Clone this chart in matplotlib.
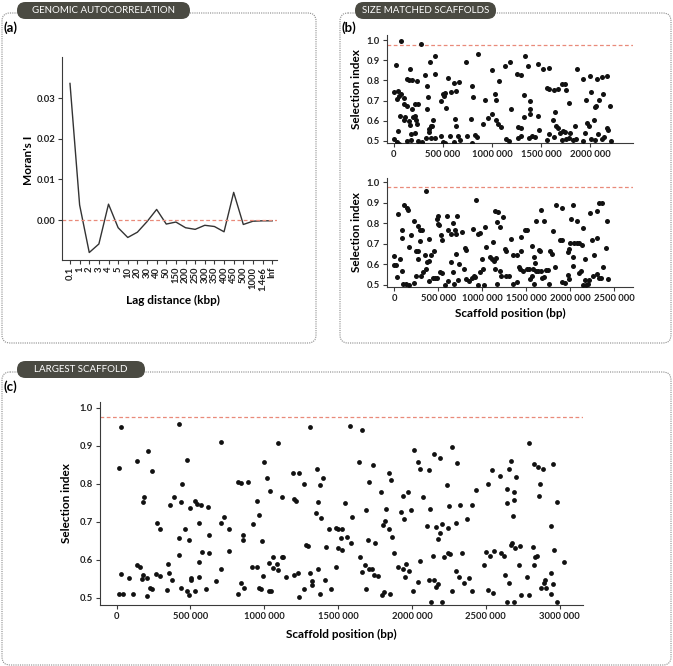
"""Drie panelen: genomische autocorrelatie, size-matched scaffolds en de grootste scaffold."""
import matplotlib
matplotlib.use("Agg")
import matplotlib.pyplot as plt
from matplotlib.patches import FancyBboxPatch
from matplotlib.ticker import FixedLocator, FormatStrFormatter
import numpy as np

plt.rcParams["font.family"] = ["Lato", "DejaVu Sans"]

# ---- data -----------------------------------------------------------------
lag_labels = ["0.1", "1", "2", "3", "4", "5", "10", "20", "30", "40", "50", "150",
              "200", "250", "300", "350", "400", "450", "500", "1000", "1.4e6", "Inf"]
morans_i = [0.0336, 0.0037, -0.0080, -0.0059, 0.0039, -0.0019, -0.0043, -0.0030,
            -0.0004, 0.0026, -0.0010, -0.0005, -0.0019, -0.0023, -0.0013, -0.0016,
            -0.0029, 0.0068, -0.0011, -0.0003, -0.0002, -0.0002]

threshold = 0.975

# size matched scaffold 1 (positie in kbp, selectie-index)
b1_pos = [76, 276, 24, 166, 414, 362, 317, 421, 128, 152, 179, 231, 0, 45, 34, 52, 76, 100,
          103, 131, 214, 241, 179, 190, 62, 117, 100, 155, 214, 224, 231, 41, 162, 0, 34, 55,
          128, 172, 214, 172, 248, 290, 352, 359, 376, 386, 397, 324, 379, 421, 334, 345, 341,
          548, 476, 497, 517, 531, 514, 583, 614, 634, 662, 617, 628, 476, 500, 517, 566, 607,
          648, 669, 731, 745, 786, 790, 793, 800, 828, 841, 855, 910, 931, 959, 993, 1000,
          1024, 1034, 1041, 1059, 1069, 1090, 1128, 1179, 1196, 1138, 1166, 1255, 1290, 1334,
          1365, 1324, 1265, 1265, 1290, 1324, 1386, 1386, 1297, 1379, 1400,
          1466, 1514, 1582, 1384, 1466, 1473, 1432, 1561, 1575, 1626, 1670, 1711, 1738, 1752,
          1782, 1640, 1616, 1650, 1670, 1582, 1558, 1633, 1694, 1718, 1738, 1711, 1752, 1779,
          1796, 1840, 1823, 1854, 1867, 1929, 1997, 2068, 2119, 2173, 1959, 2010, 2044, 2058,
          2092, 2129, 2201, 2037, 1966, 1990, 1942, 1925, 2003, 2051, 2078, 2119, 2136, 2166,
          2180, 2204]
b1_sel = [0.995, 0.980, 0.878, 0.855, 0.921, 0.889, 0.828, 0.831, 0.805, 0.802, 0.800, 0.798,
          0.742, 0.746, 0.709, 0.721, 0.734, 0.713, 0.681, 0.671, 0.681, 0.681, 0.658, 0.619,
          0.624, 0.620, 0.602, 0.599, 0.622, 0.605, 0.585, 0.551, 0.577, 0.510, 0.493, 0.487,
          0.501, 0.533, 0.539, 0.503, 0.500, 0.496, 0.543, 0.559, 0.572, 0.572, 0.605, 0.516,
          0.516, 0.516, 0.658, 0.716, 0.772, 0.813, 0.698, 0.732, 0.739, 0.665, 0.724, 0.742,
          0.787, 0.749, 0.792, 0.610, 0.574, 0.523, 0.495, 0.490, 0.523, 0.495, 0.526, 0.506,
          0.889, 0.526, 0.607, 0.488, 0.772, 0.718, 0.531, 0.520, 0.929, 0.585, 0.701, 0.615,
          0.632, 0.850, 0.734, 0.602, 0.701, 0.585, 0.795, 0.569, 0.871, 0.889, 0.660, 0.511,
          0.501, 0.831, 0.825, 0.919, 0.873, 0.726, 0.569, 0.516, 0.523, 0.617, 0.699, 0.658,
          0.566, 0.516, 0.523,
          0.879, 0.858, 0.861, 0.632, 0.622, 0.556, 0.520, 0.764, 0.760, 0.754, 0.759, 0.784,
          0.781, 0.751, 0.688, 0.643, 0.605, 0.574, 0.566, 0.533, 0.503, 0.520, 0.539, 0.549,
          0.544, 0.506, 0.511, 0.516, 0.539, 0.574, 0.503, 0.511, 0.855, 0.808, 0.822, 0.808,
          0.818, 0.822, 0.704, 0.742, 0.668, 0.675, 0.701, 0.731, 0.671, 0.605, 0.587, 0.572,
          0.539, 0.500, 0.510, 0.503, 0.533, 0.511, 0.520, 0.564, 0.556, 0.500]

# size matched scaffold 2
b2_pos = [356, 110, 140, 155, 45, 227, 265, 292, 318, 83, 91, 189, 167, 246, 265, 288, 0, 68,
          0, 15, 30, 83, 102, 133, 167, 227, 242, 273, 348, 359, 371, 394, 413, 447, 390, 303,
          330, 394, 443, 462, 489, 519, 545, 481, 500, 508, 492, 530, 545, 595, 715, 670, 689,
          614, 644, 697, 773, 576, 614, 644, 663, 697, 682, 735, 720, 788, 803, 810, 814, 848,
          886, 901, 917, 894, 932, 955, 977, 955, 977, 1008, 992, 1030, 1042, 1023, 1087, 1106,
          1136, 1125, 1144, 1182, 1171, 1205, 1239, 1155, 1144, 1201, 1258, 1265, 1171, 1212,
          1269, 1307, 1345, 1394, 1326, 1345, 1394, 1413, 1440, 1440, 1432,
          1485, 1459, 1504, 1534, 1564, 1586, 1601, 1571, 1609, 1639, 1673, 1541, 1564, 1586,
          1511, 1616, 1673, 1703, 1646, 1661, 1684, 1699, 1721, 1748, 1766, 1789, 1804, 1759,
          1826, 1841, 1909, 1886, 1905, 1909, 1935, 1973, 1991, 1973, 1991, 2014, 2036, 2074,
          1999, 2047, 2074, 2100, 2134, 2029, 2036, 2104, 2123, 2149, 2149, 2179, 2201, 2171,
          2164, 2216, 2224, 2243, 2269, 2299, 2306, 2329, 2366, 2423, 2411, 2261, 2303, 2321,
          2344, 2374, 2434]
b2_sel = [0.957, 0.887, 0.874, 0.866, 0.845, 0.813, 0.789, 0.765, 0.765, 0.768, 0.728, 0.741,
          0.684, 0.666, 0.666, 0.713, 0.638, 0.624, 0.594, 0.594, 0.536, 0.565, 0.503, 0.503,
          0.500, 0.508, 0.542, 0.627, 0.646, 0.575, 0.609, 0.614, 0.646, 0.663, 0.724, 0.542,
          0.562, 0.516, 0.533, 0.533, 0.533, 0.562, 0.559, 0.822, 0.835, 0.793, 0.798, 0.741,
          0.716, 0.835, 0.835, 0.803, 0.767, 0.765, 0.747, 0.747, 0.757, 0.500, 0.516, 0.611,
          0.562, 0.651, 0.505, 0.602, 0.521, 0.578, 0.677, 0.670, 0.526, 0.516, 0.533, 0.542,
          0.537, 0.770, 0.913, 0.746, 0.752, 0.497, 0.562, 0.578, 0.627, 0.780, 0.685, 0.497,
          0.635, 0.624, 0.614, 0.711, 0.861, 0.853, 0.806, 0.781, 0.833, 0.630, 0.575, 0.565,
          0.676, 0.664, 0.505, 0.542, 0.542, 0.542, 0.505, 0.513, 0.724, 0.643, 0.646, 0.586,
          0.667, 0.731, 0.575,
          0.768, 0.565, 0.578, 0.578, 0.689, 0.633, 0.607, 0.578, 0.565, 0.565, 0.565, 0.526,
          0.542, 0.505, 0.768, 0.812, 0.863, 0.812, 0.672, 0.666, 0.533, 0.536, 0.572, 0.572,
          0.667, 0.648, 0.760, 0.503, 0.589, 0.890, 0.877, 0.720, 0.720, 0.513, 0.508, 0.659,
          0.676, 0.546, 0.529, 0.819, 0.890, 0.809, 0.705, 0.705, 0.702, 0.705, 0.695, 0.591,
          0.635, 0.559, 0.565, 0.776, 0.497, 0.500, 0.503, 0.624, 0.523, 0.523, 0.848, 0.716,
          0.643, 0.728, 0.861, 0.900, 0.900, 0.812, 0.679, 0.542, 0.554, 0.533, 0.533, 0.589,
          0.529]

# grootste scaffold
c_pos = [18, 29, 14, 45, 29, 86, 113, 135, 135, 158, 169, 181, 187, 181, 203, 212, 208, 226,
         239, 239, 271, 293, 266, 293, 339, 345, 357, 361, 377, 390, 420, 422, 422, 433, 433,
         440, 465, 478, 474, 492, 497, 501, 501, 492, 528, 530, 546, 555, 555, 555, 573, 576,
         605, 616, 627, 627, 673, 704, 706, 724, 704, 763, 763, 819, 842, 819, 842, 864, 853,
         858, 892, 921, 919, 952, 964, 952, 966, 975, 982, 998, 989, 1016, 1031, 1038, 1034,
         1043, 1056, 1061, 1083, 1090, 1095, 1117, 1117, 1129, 1147, 1196, 1201, 1201, 1214,
         1226, 1235, 1235, 1271, 1271, 1282, 1298, 1307, 1309, 1320, 1325, 1350, 1354, 1365,
         1377, 1363, 1384, 1377, 1399, 1413, 1417, 1438, 1451, 1483, 1483, 1496, 1501,
         1579, 1661, 1643, 1706, 1738, 1550, 1597, 1529, 1518, 1563, 1586, 1529, 1692, 1704,
         1749, 1647, 1665, 1683, 1710, 1728, 1744, 1767, 1692, 1790, 1801, 1817, 1826, 1846,
         1864, 1848, 1857, 1880, 1794, 1812, 1853, 1907, 1937, 1952, 1957, 1977, 1923, 1937,
         1948, 1973, 1993, 2011, 2038, 2052, 2077, 2113, 2009, 2038, 2056, 2102, 2124, 2145,
         2165, 2179, 2192, 2203, 2215, 2242, 2113, 2147, 2163, 2179, 2129, 2203, 2147, 2188,
         2237, 2251, 2269, 2305, 2242, 2260, 2298, 2328, 2337, 2274, 2298, 2321, 2355, 2389,
         2409, 2373, 2405, 2432, 2489, 2500, 2513, 2529, 2543, 2556, 2518, 2552, 2599, 2604,
         2622, 2629, 2642, 2660, 2645, 2656, 2672, 2690, 2683, 2706, 2692, 2647, 2692, 2669,
         2681, 2697, 2731, 2724, 2742, 2794, 2828, 2857, 2891, 2871, 2859, 2819, 2835, 2846,
         2830, 2780, 2794, 2875, 2898, 2902, 2909, 2939, 2954, 2986, 2943, 2961, 2954, 2945,
         2984, 3031]
c_sel = [0.842, 0.950, 0.511, 0.510, 0.563, 0.551, 0.509, 0.859, 0.585, 0.582, 0.549, 0.753,
         0.765, 0.561, 0.553, 0.887, 0.505, 0.526, 0.523, 0.834, 0.696, 0.682, 0.563, 0.558,
         0.520, 0.588, 0.564, 0.745, 0.546, 0.766, 0.658, 0.956, 0.612, 0.752, 0.525, 0.800,
         0.681, 0.862, 0.518, 0.651, 0.735, 0.552, 0.547, 0.506, 0.754, 0.518, 0.746, 0.698,
         0.595, 0.555, 0.745, 0.621, 0.524, 0.739, 0.664, 0.617, 0.545, 0.909, 0.698, 0.713,
         0.575, 0.680, 0.623, 0.804, 0.801, 0.511, 0.539, 0.525, 0.664, 0.652, 0.805, 0.693,
         0.582, 0.755, 0.717, 0.580, 0.526, 0.522, 0.649, 0.856, 0.556, 0.814, 0.592, 0.782,
         0.519, 0.519, 0.608, 0.579, 0.590, 0.906, 0.573, 0.766, 0.608, 0.608, 0.554, 0.829,
         0.759, 0.560, 0.754, 0.564, 0.829, 0.503, 0.798, 0.524, 0.639, 0.636, 0.949, 0.566,
         0.533, 0.545, 0.724, 0.838, 0.751, 0.796, 0.575, 0.711, 0.510, 0.814, 0.548, 0.634,
         0.681, 0.523, 0.683, 0.582, 0.630, 0.680,
         0.952, 0.941, 0.856, 0.805, 0.849, 0.748, 0.713, 0.681, 0.656, 0.660, 0.645, 0.625,
         0.732, 0.653, 0.645, 0.607, 0.567, 0.586, 0.575, 0.577, 0.561, 0.557, 0.524, 0.779,
         0.691, 0.702, 0.733, 0.681, 0.661, 0.827, 0.811, 0.618, 0.507, 0.515, 0.509, 0.582,
         0.577, 0.554, 0.588, 0.570, 0.726, 0.768, 0.706, 0.779, 0.732, 0.889, 0.857, 0.839,
         0.764, 0.837, 0.517, 0.541, 0.597, 0.689, 0.734, 0.611, 0.687, 0.654, 0.671, 0.694,
         0.606, 0.683, 0.548, 0.546, 0.529, 0.536, 0.488, 0.488, 0.878, 0.867, 0.796, 0.742,
         0.896, 0.855, 0.617, 0.615, 0.698, 0.745, 0.618, 0.519, 0.570, 0.554, 0.540, 0.551,
         0.517, 0.708, 0.745, 0.784, 0.587, 0.621, 0.798, 0.610, 0.837, 0.623, 0.520, 0.513,
         0.820, 0.618, 0.610, 0.560, 0.749, 0.538, 0.787, 0.839, 0.860, 0.778, 0.714, 0.818,
         0.757, 0.488, 0.488, 0.639, 0.643, 0.632, 0.637, 0.586, 0.508, 0.906, 0.853, 0.844,
         0.840, 0.800, 0.767, 0.633, 0.608, 0.611, 0.585, 0.554, 0.508, 0.525, 0.538, 0.546,
         0.526, 0.564, 0.851, 0.752, 0.689, 0.625, 0.537, 0.511, 0.488, 0.593]

pos_ticks_b1 = [0, 500_000, 1_000_000, 1_500_000, 2_000_000]
pos_ticks = [0, 500_000, 1_000_000, 1_500_000, 2_000_000, 2_500_000, 3_000_000]
pos_tick_labels = ["0", "500 000", "1000 000", "1500 000", "2000 000", "2500 000", "3000 000"]
sel_ticks = [0.5, 0.6, 0.7, 0.8, 0.9, 1.0]

# ---- figuur ---------------------------------------------------------------
W, H = 673, 666
fig = plt.figure(figsize=(W / 100, H / 100), dpi=100)

# achtergrond-assen in pixelcoördinaten voor kaders, labels en titels
bg = fig.add_axes([0, 0, 1, 1])
bg.set_xlim(0, W)
bg.set_ylim(H, 0)
bg.axis("off")

BOX_COL = "#8a8a8a"
PILL_COL = "#4a4a42"
RED = "#e98a7a"
AX_COL = "#3a3a3a"


def kader(x0, y0, x1, y1, titel, pill_x1, letter):
    bg.add_patch(FancyBboxPatch((x0, y0), x1 - x0, y1 - y0,
                                boxstyle="round,pad=0,rounding_size=8",
                                fc="white", ec=BOX_COL, lw=0.8, ls=(0, (1, 1))))
    bg.add_patch(FancyBboxPatch((x0 + 15, y0 - 11), pill_x1 - x0 - 15, 17,
                                boxstyle="round,pad=0,rounding_size=8.5",
                                fc=PILL_COL, ec="none"))
    bg.text((x0 + 15 + pill_x1) / 2, y0 - 2.5, titel, color="white", fontsize=7.0,
            ha="center", va="center")
    bg.text(x0 + 2, y0 + 15, letter, fontsize=9.5, fontweight="bold", ha="left", va="center")


kader(2, 13, 316, 343, "GENOMIC AUTOCORRELATION", 190, "(a)")
kader(340, 13, 671, 343, "SIZE MATCHED SCAFFOLDS", 496, "(b)")
kader(2, 372, 671, 665, "LARGEST SCAFFOLD", 145, "(c)")


def px_axes(left, top, right, bottom):
    ax = fig.add_axes([left / W, 1 - bottom / H, (right - left) / W, (bottom - top) / H])
    ax.patch.set_alpha(0)
    for s in ("top", "right"):
        ax.spines[s].set_visible(False)
    for s in ("left", "bottom"):
        ax.spines[s].set_color(AX_COL)
        ax.spines[s].set_linewidth(0.8)
    ax.tick_params(length=3, width=0.8, color=AX_COL, labelsize=6.8, pad=2)
    return ax


def stijl_ticks(ax):
    for lab in ax.get_xticklabels() + ax.get_yticklabels():
        lab.set_fontweight("bold")
        lab.set_color("#222222")


# (a) Moran's I
ax_a = px_axes(62, 57, 277, 260)
x_idx = np.arange(len(lag_labels))
ax_a.plot(x_idx, morans_i, color="#333333", lw=1.0)
ax_a.axhline(0, color=RED, lw=0.9, ls=(0, (3, 2)))
ax_a.set_xlim(-0.83, 21.5)
ax_a.set_ylim(-0.00984, 0.0401)
ax_a.set_xticks(x_idx)
ax_a.set_xticklabels(lag_labels, rotation=90)
ax_a.set_yticks([0.0, 0.01, 0.02, 0.03])
ax_a.yaxis.set_major_formatter(FormatStrFormatter("%.2f"))
stijl_ticks(ax_a)
bg.text(28, 160, "Moran's I", rotation=90, fontsize=8.5, fontweight="bold",
        ha="center", va="center")
bg.text(173, 300, "Lag distance (kbp)", fontsize=8.5, fontweight="bold",
        ha="center", va="center")


def scatter_panel(ax, pos_kbp, sel, xlim, ylim, ticks, size):
    ax.scatter(np.array(pos_kbp) * 1000, sel, s=size, color="#111111", lw=0, zorder=3)
    ax.axhline(threshold, color=RED, lw=0.9, ls=(0, (3, 2)))
    ax.set_xlim(*xlim)
    ax.set_ylim(*ylim)
    ax.xaxis.set_major_locator(FixedLocator(ticks))
    ax.set_xticklabels(pos_tick_labels[:len(ticks)])
    ax.set_yticks(sel_ticks)
    ax.yaxis.set_major_formatter(FormatStrFormatter("%.1f"))
    stijl_ticks(ax)


# (b) boven
ax_b1 = px_axes(386.7, 35, 633, 143.3)
scatter_panel(ax_b1, b1_pos, b1_sel, (-74_000, 2_433_000), (0.4886, 1.025), pos_ticks_b1, 13)
bg.text(357, 89, "Selection index", rotation=90, fontsize=8.5, fontweight="bold",
        ha="center", va="center")

# (b) onder
ax_b2 = px_axes(386.7, 178, 633, 287)
scatter_panel(ax_b2, b2_pos, b2_sel, (-86_000, 2_713_000), (0.489, 1.021), pos_ticks[:6], 13)
bg.text(357, 232, "Selection index", rotation=90, fontsize=8.5, fontweight="bold",
        ha="center", va="center")
bg.text(510, 313, "Scaffold position (bp)", fontsize=8.5, fontweight="bold",
        ha="center", va="center")

# (c) grootste scaffold
ax_c = px_axes(100, 402, 583, 605)
scatter_panel(ax_c, c_pos, c_sel, (-113_000, 3_159_000), (0.481, 1.015), pos_ticks, 12)
bg.text(67, 503, "Selection index", rotation=90, fontsize=8.5, fontweight="bold",
        ha="center", va="center")
bg.text(341, 634, "Scaffold position (bp)", fontsize=8.5, fontweight="bold",
        ha="center", va="center")

fig.savefig("out.png", dpi=100)
